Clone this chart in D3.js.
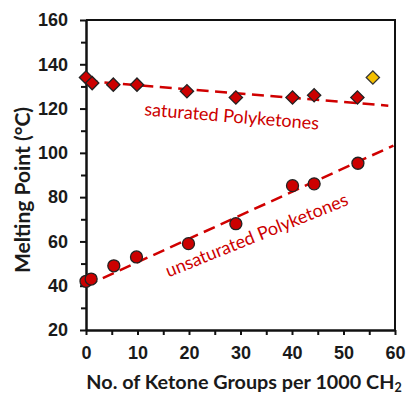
<!DOCTYPE html>
<html>
<head>
<meta charset="utf-8">
<script src="https://cdn.jsdelivr.net/npm/d3@7"></script>
<style>
	body { margin: 0; background: #fff; }
	svg { display: block; font-family: Lato, "Open Sans", "Liberation Sans", sans-serif; }
	.tick text { font-size: 18px; font-weight: bold; fill: #1a1a1a; }
	.axis-title { font-weight: bold; fill: #1a1a1a; }
	.series-label { font-size: 18px; fill: #cc0000; }
</style>
</head>
<body>
<svg id="chart" width="408" height="396"></svg>
<script>
// saturated polyketones (diamonds)
const sat_x = [0, 1.2, 5.3, 9.9, 19.6, 29.1, 40.1, 44.3, 52.7];
const sat_y = [134, 131.5, 130.8, 130.8, 127.8, 125, 125, 126, 125];
// single yellow outlier
const extra_x = [55.7];
const extra_y = [134];
// unsaturated polyketones (circles)
const unsat_x = [0, 1, 5.4, 9.8, 19.9, 29.1, 40.1, 44.3, 52.8];
const unsat_y = [42, 43, 49, 53, 59, 68, 85.2, 86, 95.3];
// fitted trend lines, start and end points
const sat_fit = [[0, 132.5], [58.7, 121.3]];
const unsat_fit = [[0, 40], [59.7, 103.3]];

const x_ticks = [0, 10, 20, 30, 40, 50, 60];
const y_ticks = [20, 40, 60, 80, 100, 120, 140, 160];

const svg = d3.select('#chart');
const m_left = 86, m_right = 395, m_top = 20, m_bottom = 330;

const x = d3.scaleLinear().domain([0, 60]).range([m_left, m_right]);
const y = d3.scaleLinear().domain([20, 160]).range([m_bottom, m_top]);

// frame (top and right)
svg.append('path')
	.attr('d', `M${m_left},${m_top}H${m_right}V${m_bottom}`)
	.attr('fill', 'none')
	.attr('stroke', '#111')
	.attr('stroke-width', 2);

// minor ticks
svg.append('g')
	.attr('transform', `translate(0,${m_bottom})`)
	.call(d3.axisBottom(x).tickValues(d3.range(5, 60, 10)).tickSize(5).tickFormat(''))
	.call(g => g.select('.domain').remove())
	.selectAll('line').attr('stroke', '#111').attr('stroke-width', 2);
svg.append('g')
	.attr('transform', `translate(${m_left},0)`)
	.call(d3.axisLeft(y).tickValues(d3.range(30, 160, 20)).tickSize(5).tickFormat(''))
	.call(g => g.select('.domain').remove())
	.selectAll('line').attr('stroke', '#111').attr('stroke-width', 2);

// major axes
const xAxis = svg.append('g')
	.attr('transform', `translate(0,${m_bottom})`)
	.call(d3.axisBottom(x).tickValues(x_ticks).tickSize(5).tickSizeOuter(0).tickPadding(13));
const yAxis = svg.append('g')
	.attr('transform', `translate(${m_left},0)`)
	.call(d3.axisLeft(y).tickValues(y_ticks).tickSize(6).tickSizeOuter(0).tickPadding(12));
[xAxis, yAxis].forEach(g => {
	g.select('.domain').attr('stroke', '#111').attr('stroke-width', 2.5);
	g.selectAll('line').attr('stroke', '#111').attr('stroke-width', 2);
});
xAxis.selectAll('text').attr('dy', '0.62em');

// trend lines
const line = d3.line().x(d => x(d[0])).y(d => y(d[1]));
[sat_fit, unsat_fit].forEach(fit => {
	svg.append('path')
		.attr('d', line(fit))
		.attr('fill', 'none')
		.attr('stroke', '#d00000')
		.attr('stroke-width', 2.5)
		.attr('stroke-dasharray', '12,6.5');
});

// circles
svg.append('g').selectAll('circle')
	.data(d3.zip(unsat_x, unsat_y))
	.enter().append('circle')
		.attr('cx', d => x(d[0]))
		.attr('cy', d => y(d[1]))
		.attr('r', 6)
		.attr('fill', '#cc0000')
		.attr('stroke', '#222')
		.attr('stroke-width', 1.3);

// diamonds
const diamond = d3.symbol().type(d3.symbolSquare).size(88);
svg.append('g').selectAll('path')
	.data(d3.zip(sat_x, sat_y))
	.enter().append('path')
		.attr('d', diamond)
		.attr('transform', d => `translate(${x(d[0])},${y(d[1])}) rotate(45)`)
		.attr('fill', '#cc0000')
		.attr('stroke', '#222')
		.attr('stroke-width', 1.3);
svg.append('g').selectAll('path')
	.data(d3.zip(extra_x, extra_y))
	.enter().append('path')
		.attr('d', diamond)
		.attr('transform', d => `translate(${x(d[0])},${y(d[1])}) rotate(45)`)
		.attr('fill', '#f5c000')
		.attr('stroke', '#333')
		.attr('stroke-width', 1.3);

// series labels
svg.append('text')
	.attr('class', 'series-label')
	.attr('text-anchor', 'middle')
	.attr('transform', `translate(${x(28.2)},${y(113.7)}) rotate(4.7)`)
	.text('saturated Polyketones');
svg.append('text')
	.attr('class', 'series-label')
	.attr('text-anchor', 'middle')
	.attr('transform', `translate(${x(33.6)},${y(60.2)}) rotate(-22)`)
	.text('unsaturated Polyketones');

// axis titles
svg.append('text')
	.attr('class', 'axis-title')
	.attr('font-size', 21)
	.attr('text-anchor', 'middle')
	.attr('transform', `translate(30,190) rotate(-90)`)
	.text('Melting Point (°C)');
const xt = svg.append('text')
	.attr('class', 'axis-title')
	.attr('font-size', 19.8)
	.attr('text-anchor', 'middle')
	.attr('x', 244)
	.attr('y', 389);
xt.append('tspan').text('No. of Ketone Groups per 1000 CH');
xt.append('tspan').attr('font-size', 12.5).attr('dy', 3).text('2');
</script>
</body>
</html>
